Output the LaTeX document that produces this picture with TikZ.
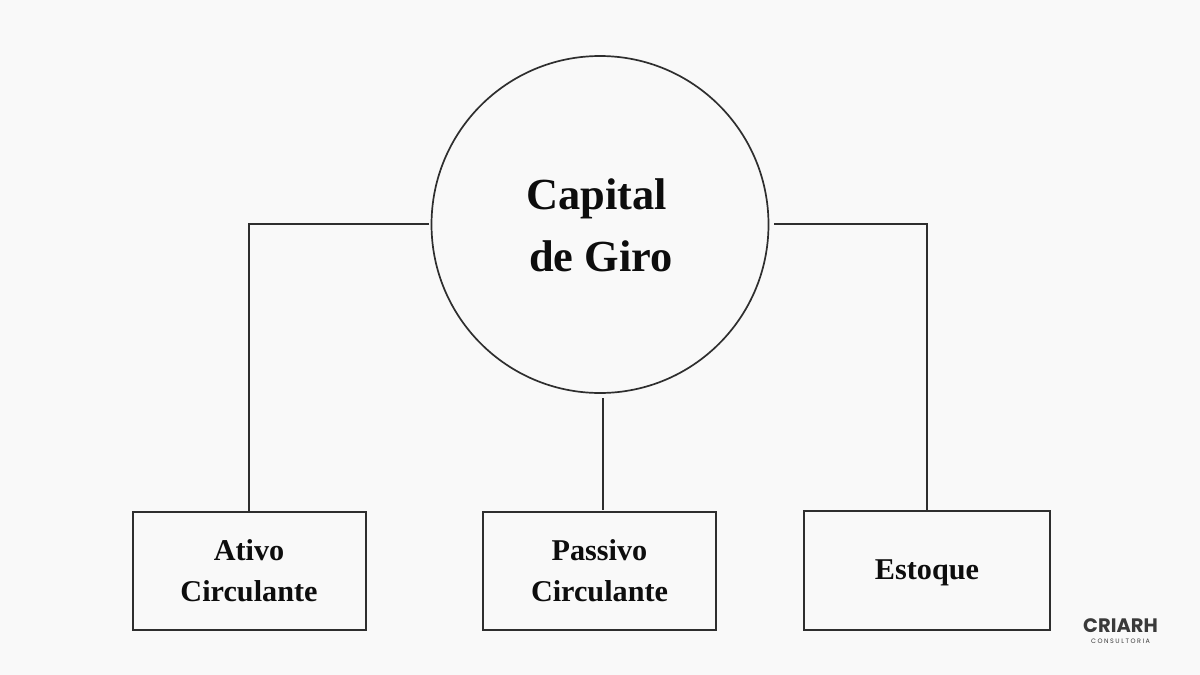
\documentclass[tikz,border=0pt]{standalone}
\usepackage{fontspec}
\setmainfont{Liberation Serif}
\newfontfamily\logofont{Poppins}
\definecolor{bgc}{HTML}{F9F9F9}
\definecolor{inkc}{HTML}{0D0D0D}
\definecolor{linec}{HTML}{2E2E2E}
\definecolor{logoc}{HTML}{3A3A3A}
\tikzset{
  x=1pt,y=-1pt,
  hub/.style={circle,draw=linec,line width=1.7pt,minimum size=337pt,inner sep=0pt},
  hubtext/.style={text=inkc,align=center,font=\fontsize{44.4}{62}\selectfont\bfseries},
  leaf/.style={rectangle,draw=linec,line width=2pt,inner sep=0pt,align=center,text=inkc,font=\fontsize{30.2}{41}\selectfont\bfseries},
  link/.style={draw=linec,line width=1.7pt},
}
\begin{document}
\begin{tikzpicture}
\useasboundingbox[fill=bgc] (0,0) rectangle (1200,675);
\node[hub] (capital) at (600,224.5) {};
\node[hubtext] (captext) at (597,225) {Capital\\\hspace*{8pt}de Giro};
\node[leaf,minimum width=233pt,minimum height=118pt] (ativo) at (249,570.5) {Ativo\\Circulante};
\node[leaf,minimum width=233pt,minimum height=118pt] (passivo) at (599.5,570.5) {Passivo\\Circulante};
\node[leaf,minimum width=246pt,minimum height=119pt] (estoque) at (927,570) {\raisebox{-9pt}[0pt][0pt]{Estoque}};
\coordinate (lstart) at (429,224);
\coordinate (rstart) at (774,224);
\coordinate (mstart) at (603,398);
\coordinate (mend) at (603,510);
\draw[link] (lstart) -| (ativo.north);
\draw[link] (rstart) -| (estoque.north);
\draw[link] (mstart) -- (mend);
\node[text=logoc,font=\logofont\fontsize{19.5}{20}\selectfont\bfseries,inner sep=0pt] (logo) at (1120.5,625.5) {CRIARH};
\node[text=logoc,font=\logofont\fontsize{6.4}{7}\selectfont\addfontfeature{LetterSpace=24},inner sep=0pt] (logosub) at (1120.5,641) {CONSULTORIA};
\end{tikzpicture}
\end{document}
